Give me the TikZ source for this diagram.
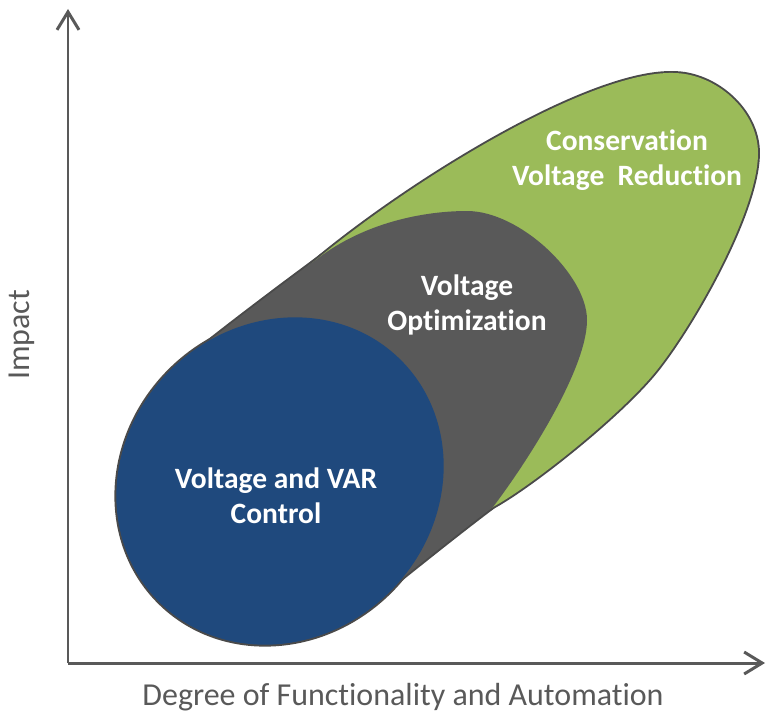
\documentclass[tikz,border=0pt]{standalone}
\usepackage{fontspec}
\setmainfont{Carlito}[Ligatures=NoCommon]
\usetikzlibrary{arrows.meta}
\definecolor{cvrgreen}{HTML}{9BBB59}
\definecolor{vogrey}{HTML}{595959}
\definecolor{vvcblue}{HTML}{1F497D}
\definecolor{rimgrey}{HTML}{4A4A4A}
\definecolor{axisgrey}{HTML}{595959}
\newcommand\greenshape{(240,360) .. controls (275,292) .. (317,259)
  .. controls (415,178) and (590,71) .. (673,73)
  .. controls (715,73) and (758,110) .. (758,153)
  .. controls (758,210) and (695,322) .. (657,370)
  .. controls (622,414) and (533,485) .. (493,507)
  -- (420,550) -- (330,560) -- cycle}
\newcommand\greyshape{(200,348) .. controls (235,320) and (287,281) .. (317,259)
  .. controls (365,222) and (425,211) .. (467,211)
  .. controls (520,211) and (587,275) .. (587,320)
  .. controls (587,370) and (525,465) .. (493,507)
  .. controls (460,532) and (430,556) .. (400,580)
  -- (320,590) -- (200,420) -- cycle}
\newcommand\blueshape{(280,481) ellipse [x radius=171,y radius=156,rotate=45]}

\begin{document}
\begin{tikzpicture}[x=0.02cm,y=-0.02cm,
    axis/.style={draw=axisgrey,line width=1.7pt,-{Straight Barb[length=0.36cm,width=0.44cm]}},
    rim/.style={draw=rimgrey,line width=2.2pt,line join=round},
    blobtext/.style={text=white,font=\bfseries\fontsize{16.8}{20}\selectfont,align=center},
    axislabel/.style={text=axisgrey,font=\fontsize{18.2}{22}\selectfont}]
  \useasboundingbox (0,0) rectangle (767,713);
  \draw[rim] \greenshape;
  \draw[rim] \greyshape;
  \draw[rim] \blueshape;
  \fill[cvrgreen] \greenshape;
  \fill[vogrey] \greyshape;
  \fill[vvcblue] \blueshape;
  \node[blobtext] (cvr) at (627,160) {Conservation\\Voltage~~Reduction};
  \node[blobtext] (vo) at (467,305) {Voltage\\Optimization};
  \node[blobtext] (vvc) at (276,496) {Voltage and VAR\\Control};
  \coordinate (origin) at (68,663);
  \coordinate (ytip) at (68,9);
  \coordinate (xtip) at (765,663);
  \draw[axis] (origin) -- (ytip);
  \draw[axis] (origin) -- (xtip);
  \node[axislabel,rotate=90] (impact) at (22,335) {Impact};
  \node[axislabel] (degree) at (403,697) {Degree of Functionality and Automation};
\end{tikzpicture}
\end{document}
